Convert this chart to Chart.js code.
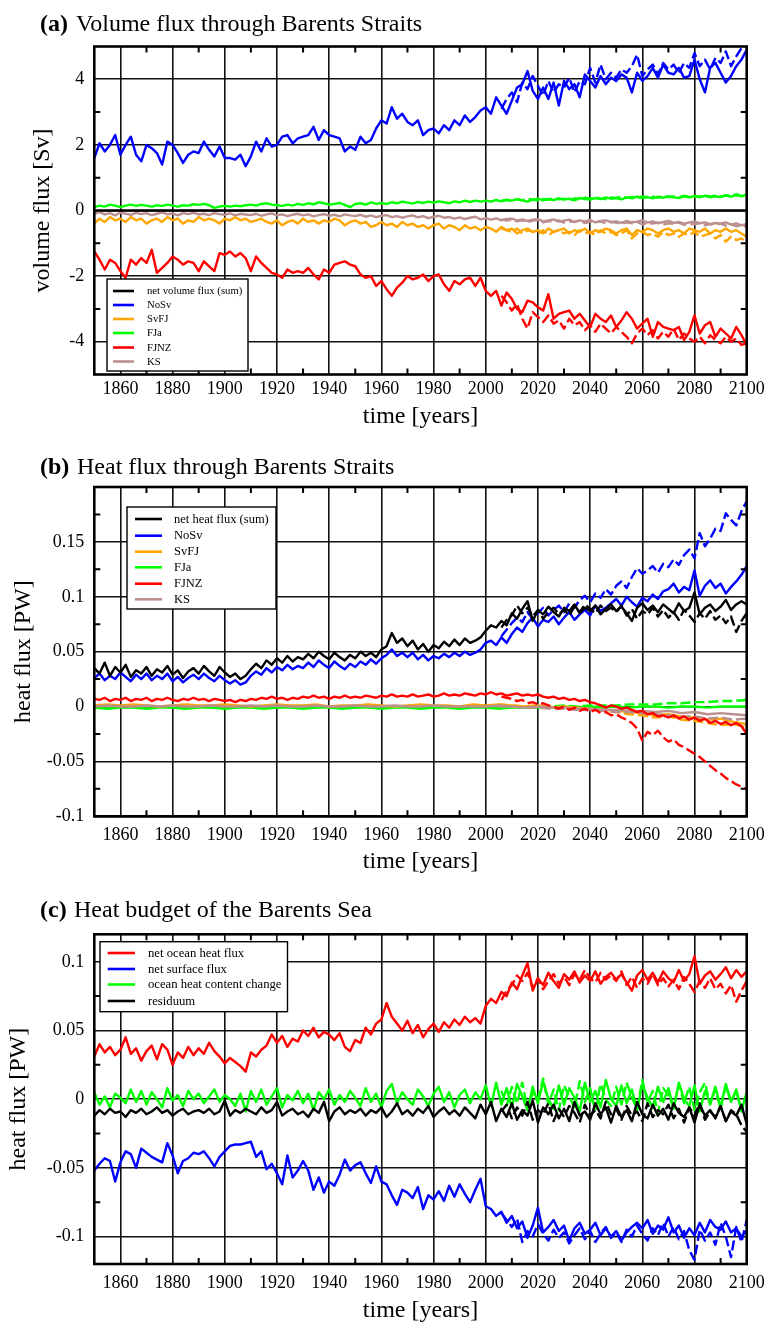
<!DOCTYPE html>
<html><head><meta charset="utf-8">
<script src="https://cdn.jsdelivr.net/npm/chart.js@4.4.1/dist/chart.umd.min.js"></script>
<style>
html,body{margin:0;padding:0;background:#fff;}
canvas{display:block;}
</style></head><body>
<canvas id="ca" width="764" height="440"></canvas>
<canvas id="cb" width="764" height="445"></canvas>
<canvas id="cc" width="764" height="437"></canvas>
<script>
// ---------- axes / ticks ----------
const xTicks = [1860,1880,1900,1920,1940,1960,1980,2000,2020,2040,2060,2080,2100];
const xMinor = [1870,1890,1910,1930,1950,1970,1990,2010,2030,2050,2070,2090];
const yTicksA = [-4,-2,0,2,4];
const yMinorA = [-3,-1,1,3];
const yTicksB = [-0.1,-0.05,0,0.05,0.1,0.15];
const yMinorB = [-0.075,-0.025,0.025,0.075,0.125,0.175];
const yTicksC = [-0.1,-0.05,0,0.05,0.1];
const yMinorC = [-0.075,-0.025,0.025,0.075];

function range(a,b,s){const r=[];for(let v=a;v<=b;v+=s)r.push(v);return r;}
const yr2 = range(1850,2100,2);   // solid series, every 2nd year
const yr2d = range(2006,2100,2);  // dashed scenario
const yr5 = range(1850,2100,5);
const yr5d = range(2005,2100,5);
const yrNet = [1850,2100];

// ---------- (a) volume flux [Sv] ----------
const aNet = [0,0];
const aNoSv = [
1.6,2.05,1.8,2.0,2.3,1.7,2.0,2.25,1.7,1.5,
2.0,1.9,1.75,1.4,2.1,2.0,1.75,1.45,1.7,1.8,
1.75,2.1,1.85,1.65,1.95,1.6,1.6,1.55,1.7,1.35,
1.65,2.1,1.8,2.2,1.95,2.0,2.25,2.3,2.05,2.2,
2.25,2.3,2.55,2.15,2.45,2.3,2.25,2.2,1.8,1.95,
1.85,2.25,2.05,2.15,2.5,2.75,2.65,3.15,2.8,2.95,
2.7,2.6,2.75,2.3,2.45,2.5,2.35,2.6,2.45,2.75,
2.6,2.9,2.7,2.85,3.05,3.15,2.95,3.45,3.2,2.95,
3.35,3.75,3.85,4.25,3.65,3.4,3.75,3.4,3.9,3.2,
3.95,3.7,3.85,3.45,4.15,3.95,3.75,4.1,3.85,4.05,
3.95,4.15,4.05,3.6,4.2,3.95,4.1,4.35,4.05,4.45,
4.2,4.15,4.35,4.05,4.1,4.6,4.0,3.6,4.35,4.5,
4.2,3.9,4.1,4.4,4.6,4.9];
const aNoSvD = [
3.1,3.4,
3.6,3.3,3.9,3.7,4.1,3.8,3.5,3.95,3.6,3.85,
3.75,4.05,3.6,3.95,3.85,4.35,3.9,4.45,4.0,4.2,
4.05,4.3,4.2,4.4,4.75,4.1,4.3,4.45,4.15,4.5,
4.3,4.45,4.2,4.5,4.35,4.8,4.4,4.6,4.3,4.65,
4.5,4.85,4.4,4.7,4.95,5.0];
const aSvFJ = [
-0.4,-0.25,-0.35,-0.2,-0.3,-0.25,-0.35,-0.2,-0.3,-0.25,
-0.4,-0.3,-0.25,-0.35,-0.2,-0.3,-0.25,-0.4,-0.3,-0.35,
-0.2,-0.3,-0.25,-0.3,-0.4,-0.25,-0.3,-0.2,-0.3,-0.25,
-0.35,-0.3,-0.25,-0.35,-0.4,-0.3,-0.45,-0.35,-0.3,-0.4,
-0.25,-0.35,-0.3,-0.4,-0.3,-0.35,-0.25,-0.3,-0.45,-0.35,
-0.3,-0.4,-0.35,-0.5,-0.45,-0.35,-0.45,-0.4,-0.5,-0.35,
-0.45,-0.4,-0.5,-0.45,-0.55,-0.45,-0.4,-0.55,-0.45,-0.5,
-0.6,-0.45,-0.55,-0.5,-0.6,-0.5,-0.55,-0.65,-0.5,-0.6,
-0.55,-0.7,-0.6,-0.55,-0.65,-0.6,-0.7,-0.55,-0.65,-0.6,
-0.55,-0.7,-0.6,-0.65,-0.55,-0.7,-0.6,-0.65,-0.55,-0.6,
-0.7,-0.6,-0.55,-0.75,-0.6,-0.65,-0.55,-0.6,-0.7,-0.6,
-0.55,-0.65,-0.6,-0.7,-0.55,-0.6,-0.65,-0.55,-0.7,-0.6,
-0.65,-0.55,-0.65,-0.6,-0.7,-0.8];
const aSvFJD = [
-0.55,-0.6,
-0.65,-0.55,-0.7,-0.6,-0.65,-0.7,-0.6,-0.75,-0.65,-0.6,
-0.7,-0.65,-0.75,-0.6,-0.7,-0.65,-0.75,-0.6,-0.7,-0.65,
-0.75,-0.7,-0.6,-0.85,-0.7,-0.65,-0.75,-0.7,-0.8,-0.65,
-0.75,-0.7,-0.8,-0.7,-0.75,-0.65,-0.8,-0.75,-0.7,-0.85,
-0.75,-0.95,-0.8,-0.9,-0.85,-1.0];
const aFJa = [
0.1,0.15,0.12,0.18,0.15,0.1,0.15,0.18,0.14,0.17,
0.15,0.12,0.16,0.14,0.18,0.15,0.12,0.16,0.15,0.19,
0.17,0.2,0.16,0.08,0.12,0.14,0.12,0.15,0.13,0.16,
0.18,0.15,0.2,0.22,0.18,0.16,0.14,0.18,0.15,0.2,
0.17,0.22,0.19,0.25,0.22,0.18,0.2,0.23,0.17,0.1,
0.2,0.22,0.18,0.25,0.2,0.23,0.2,0.25,0.22,0.27,
0.24,0.21,0.26,0.23,0.27,0.24,0.28,0.25,0.22,0.28,
0.25,0.3,0.26,0.3,0.27,0.3,0.27,0.32,0.28,0.33,
0.3,0.35,0.31,0.27,0.33,0.36,0.31,0.35,0.32,0.37,
0.33,0.36,0.31,0.38,0.35,0.33,0.38,0.35,0.4,0.36,
0.38,0.34,0.4,0.37,0.42,0.38,0.41,0.37,0.42,0.39,
0.43,0.4,0.38,0.43,0.4,0.44,0.41,0.45,0.4,0.43,
0.41,0.46,0.42,0.5,0.44,0.48];
const aFJaD = [
0.3,0.32,
0.29,0.34,0.31,0.36,0.33,0.3,0.35,0.33,0.38,0.34,
0.36,0.32,0.37,0.35,0.39,0.36,0.4,0.37,0.35,0.4,
0.38,0.42,0.39,0.41,0.38,0.43,0.4,0.42,0.39,0.44,
0.41,0.43,0.4,0.45,0.42,0.44,0.41,0.46,0.43,0.45,
0.42,0.47,0.44,0.46,0.43,0.49];
const aFJNZ = [
-1.25,-1.5,-1.8,-1.5,-1.6,-1.85,-2.05,-1.5,-1.65,-1.45,
-1.6,-1.2,-1.9,-1.75,-1.6,-1.4,-1.5,-1.65,-1.55,-1.6,
-1.85,-1.55,-1.7,-1.85,-1.3,-1.35,-1.25,-1.4,-1.3,-1.45,
-1.85,-1.4,-1.6,-1.75,-1.9,-1.95,-2.05,-1.8,-1.9,-1.85,
-1.9,-1.75,-1.95,-2.1,-1.8,-1.9,-1.65,-1.6,-1.55,-1.65,
-1.7,-1.95,-2.05,-2.0,-2.3,-2.15,-2.4,-2.6,-2.35,-2.2,
-2.0,-2.1,-2.05,-1.95,-2.15,-2.0,-1.95,-2.25,-2.45,-2.15,
-2.25,-2.1,-2.05,-2.3,-2.05,-2.45,-2.6,-2.45,-2.9,-2.5,
-2.7,-3.0,-3.1,-2.75,-2.8,-2.95,-3.05,-2.55,-3.3,-3.15,
-3.1,-3.05,-3.3,-3.15,-3.35,-3.55,-3.15,-3.3,-3.4,-3.2,
-3.55,-3.35,-3.1,-3.3,-3.6,-3.45,-3.3,-3.85,-3.4,-3.55,
-3.6,-3.65,-3.55,-3.95,-3.7,-3.2,-3.75,-3.5,-3.4,-3.85,
-3.6,-3.75,-3.9,-3.55,-3.8,-4.1];
const aFJNZD = [
-2.6,-2.8,
-3.05,-2.85,-3.3,-3.6,-3.1,-3.25,-3.4,-3.2,-3.45,-3.35,
-3.6,-3.3,-3.5,-3.4,-3.65,-3.5,-3.7,-3.45,-3.6,-3.75,
-3.55,-3.7,-3.85,-4.05,-3.75,-3.6,-3.8,-3.65,-3.9,-3.7,
-3.85,-3.6,-3.95,-3.75,-3.9,-4.0,-3.85,-4.05,-3.8,-3.95,
-4.05,-3.85,-4.0,-3.9,-4.1,-4.05];
const aKS = [
-0.1,-0.05,-0.12,-0.08,-0.15,-0.06,-0.1,-0.13,-0.07,-0.11,
-0.08,-0.14,-0.1,-0.06,-0.12,-0.09,-0.15,-0.08,-0.11,-0.07,
-0.12,-0.1,-0.14,-0.08,-0.11,-0.13,-0.09,-0.15,-0.1,-0.12,
-0.14,-0.1,-0.16,-0.12,-0.09,-0.15,-0.12,-0.17,-0.13,-0.1,
-0.15,-0.12,-0.18,-0.14,-0.11,-0.16,-0.13,-0.18,-0.12,-0.15,
-0.17,-0.13,-0.19,-0.15,-0.2,-0.16,-0.14,-0.2,-0.17,-0.22,
-0.18,-0.15,-0.21,-0.17,-0.23,-0.19,-0.16,-0.22,-0.2,-0.25,
-0.21,-0.26,-0.22,-0.19,-0.27,-0.23,-0.28,-0.24,-0.3,-0.26,
-0.25,-0.3,-0.27,-0.32,-0.28,-0.26,-0.33,-0.3,-0.27,-0.34,
-0.31,-0.28,-0.35,-0.3,-0.33,-0.29,-0.36,-0.32,-0.3,-0.35,
-0.33,-0.38,-0.32,-0.36,-0.34,-0.3,-0.37,-0.33,-0.39,-0.35,
-0.32,-0.38,-0.35,-0.4,-0.36,-0.33,-0.39,-0.36,-0.42,-0.38,
-0.4,-0.36,-0.43,-0.39,-0.45,-0.42];
const aKSD = [
-0.27,-0.31,
-0.28,-0.33,-0.3,-0.35,-0.31,-0.29,-0.36,-0.32,-0.34,-0.3,
-0.37,-0.33,-0.35,-0.31,-0.38,-0.34,-0.36,-0.33,-0.39,-0.35,
-0.37,-0.41,-0.36,-0.39,-0.35,-0.42,-0.38,-0.4,-0.36,-0.43,
-0.39,-0.41,-0.37,-0.44,-0.4,-0.42,-0.38,-0.45,-0.41,-0.43,
-0.4,-0.46,-0.42,-0.48,-0.44,-0.5];

// ---------- (b) heat flux [PW] ----------
const bNet = [
0.035,0.03,0.04,0.028,0.036,0.031,0.038,0.027,0.033,0.03,
0.036,0.028,0.034,0.031,0.037,0.029,0.033,0.026,0.032,0.035,
0.03,0.037,0.032,0.028,0.036,0.031,0.027,0.03,0.025,0.028,
0.034,0.039,0.035,0.042,0.038,0.044,0.04,0.046,0.041,0.045,
0.043,0.048,0.044,0.05,0.046,0.043,0.049,0.045,0.042,0.047,
0.044,0.05,0.046,0.049,0.045,0.052,0.055,0.067,0.058,0.062,
0.055,0.06,0.052,0.057,0.05,0.056,0.053,0.059,0.055,0.061,
0.056,0.062,0.058,0.06,0.063,0.069,0.074,0.072,0.078,0.074,
0.085,0.08,0.089,0.096,0.078,0.088,0.084,0.091,0.086,0.082,
0.09,0.087,0.093,0.085,0.09,0.087,0.092,0.084,0.089,0.093,
0.087,0.091,0.085,0.078,0.09,0.094,0.088,0.092,0.086,0.093,
0.089,0.085,0.094,0.087,0.09,0.104,0.084,0.09,0.093,0.087,
0.091,0.097,0.088,0.093,0.096,0.093];
const bNetD = [
0.072,0.079,
0.083,0.092,0.085,0.09,0.082,0.088,0.08,0.086,0.09,0.084,
0.088,0.083,0.091,0.086,0.093,0.089,0.085,0.092,0.087,0.09,
0.086,0.092,0.083,0.089,0.08,0.087,0.084,0.09,0.082,0.088,
0.081,0.086,0.079,0.088,0.083,0.077,0.085,0.08,0.087,0.079,
0.083,0.076,0.082,0.068,0.078,0.085];
const bNoSv = [
0.026,0.03,0.024,0.028,0.025,0.031,0.027,0.023,0.029,0.025,
0.03,0.024,0.028,0.025,0.03,0.023,0.027,0.022,0.026,0.029,
0.025,0.03,0.026,0.023,0.028,0.024,0.021,0.024,0.02,0.022,
0.028,0.032,0.029,0.035,0.031,0.036,0.033,0.038,0.034,0.037,
0.035,0.04,0.036,0.042,0.038,0.035,0.041,0.037,0.034,0.039,
0.036,0.041,0.038,0.043,0.039,0.044,0.047,0.052,0.046,0.049,
0.045,0.049,0.043,0.047,0.042,0.046,0.044,0.048,0.045,0.049,
0.046,0.05,0.047,0.049,0.052,0.058,0.06,0.056,0.063,0.058,
0.066,0.072,0.068,0.076,0.081,0.073,0.079,0.077,0.082,0.075,
0.081,0.086,0.079,0.084,0.088,0.083,0.092,0.087,0.09,0.094,
0.098,0.092,0.1,0.095,0.091,0.099,0.096,0.102,0.098,0.105,
0.107,0.112,0.104,0.109,0.106,0.124,0.101,0.11,0.115,0.108,
0.112,0.103,0.109,0.114,0.12,0.128];
const bNoSvD = [
0.064,0.07,
0.076,0.081,0.077,0.086,0.08,0.085,0.09,0.083,0.088,0.092,
0.086,0.094,0.09,0.097,0.101,0.095,0.103,0.099,0.107,0.102,
0.11,0.114,0.108,0.118,0.126,0.121,0.124,0.128,0.122,0.13,
0.127,0.134,0.129,0.138,0.143,0.135,0.158,0.146,0.153,0.162,
0.16,0.176,0.17,0.165,0.178,0.187];
const bFJNZ = [
0.007,0.006,0.008,0.005,0.007,0.006,0.008,0.005,0.007,0.006,
0.008,0.005,0.007,0.006,0.008,0.006,0.005,0.007,0.006,0.008,
0.006,0.007,0.005,0.007,0.006,0.005,0.006,0.004,0.006,0.005,
0.007,0.006,0.008,0.007,0.009,0.007,0.008,0.006,0.008,0.007,
0.009,0.008,0.01,0.008,0.009,0.007,0.009,0.008,0.01,0.008,
0.009,0.008,0.01,0.009,0.008,0.01,0.009,0.011,0.009,0.01,
0.009,0.011,0.009,0.01,0.011,0.009,0.01,0.012,0.01,0.011,
0.01,0.012,0.011,0.01,0.012,0.011,0.013,0.011,0.012,0.01,
0.011,0.012,0.01,0.011,0.01,0.011,0.009,0.008,0.009,0.007,
0.008,0.006,0.007,0.005,0.006,0.004,0.003,0.001,-0.001,0.001,
0.0,-0.002,-0.001,-0.003,-0.005,-0.004,-0.007,-0.006,-0.009,-0.008,
-0.01,-0.008,-0.011,-0.009,-0.012,-0.01,-0.013,-0.011,-0.015,-0.013,
-0.016,-0.014,-0.017,-0.015,-0.018,-0.025];
const bFJNZD = [
0.009,0.008,
0.007,0.005,0.006,0.003,0.004,0.002,0.003,0.001,0.0,-0.002,
0.0,-0.003,-0.001,-0.004,-0.002,-0.005,-0.003,-0.006,-0.005,-0.008,
-0.007,-0.01,-0.012,-0.015,-0.02,-0.031,-0.023,-0.026,-0.022,-0.028,
-0.032,-0.03,-0.035,-0.037,-0.04,-0.043,-0.046,-0.05,-0.054,-0.058,
-0.061,-0.065,-0.068,-0.071,-0.073,-0.075];
const bSvFJ = [
0.001,0.002,0.001,0.002,0.001,0.0,0.001,0.002,0.001,0.001,
0.002,0.001,0.0,0.001,0.002,0.001,0.001,0.002,0.0,0.001,
0.001,0.002,0.001,0.0,0.001,0.002,0.001,0.001,0.0,0.002,
0.001,0.002,0.001,0.0,0.001,-0.001,0.0,-0.001,-0.002,-0.003,
-0.004,-0.005,-0.006,-0.008,-0.007,-0.009,-0.01,-0.012,-0.011,-0.014,
-0.016];
const bSvFJD = [0.002,0.001,0.0,0.001,-0.001,-0.002,-0.001,-0.003,-0.004,-0.005,
-0.007,-0.008,-0.01,-0.009,-0.012,-0.013,-0.015,-0.017,-0.016,-0.019];
const bFJa = [
-0.001,-0.002,-0.001,-0.001,-0.002,-0.001,-0.001,-0.002,-0.001,-0.001,
-0.002,-0.001,-0.001,-0.002,-0.001,-0.001,-0.002,-0.001,-0.001,-0.002,
-0.001,-0.001,-0.002,-0.001,-0.001,-0.002,-0.001,-0.001,-0.002,-0.001,
-0.001,-0.002,-0.001,-0.001,-0.001,-0.001,0.0,-0.001,0.0,-0.001,
0.0,-0.001,0.0,0.0,-0.001,0.0,0.0,-0.001,0.0,0.0,
0.0];
const bFJaD = [0.0,0.0,-0.001,0.0,0.0,0.001,0.0,0.001,0.001,0.001,
0.002,0.002,0.002,0.003,0.003,0.004,0.004,0.005,0.005,0.006];
const bKS = [
0.0,0.001,0.0,0.0,0.001,0.0,0.001,0.0,0.0,0.001,
0.0,0.0,0.001,0.0,0.001,0.0,0.0,0.001,0.0,0.0,
0.001,0.0,0.0,0.001,0.0,0.0,0.001,0.0,0.0,0.0,
0.0,0.001,0.0,-0.001,0.0,-0.001,-0.001,-0.002,-0.002,-0.003,
-0.003,-0.004,-0.004,-0.005,-0.004,-0.006,-0.005,-0.007,-0.006,-0.007,
-0.008];
const bKSD = [0.0,0.0,-0.001,-0.001,-0.002,-0.002,-0.003,-0.003,-0.004,-0.005,
-0.005,-0.006,-0.007,-0.008,-0.009,-0.009,-0.011,-0.01,-0.012,-0.011];

// ---------- (c) heat budget [PW] ----------
const cOcean = [
0.031,0.04,0.034,0.038,0.032,0.036,0.045,0.033,0.037,0.028,
0.035,0.039,0.029,0.04,0.036,0.025,0.034,0.03,0.038,0.032,
0.037,0.033,0.041,0.035,0.031,0.026,0.03,0.027,0.024,0.02,
0.034,0.031,0.036,0.039,0.047,0.041,0.046,0.038,0.044,0.042,
0.05,0.046,0.052,0.045,0.049,0.047,0.043,0.048,0.038,0.035,
0.043,0.041,0.052,0.047,0.055,0.058,0.07,0.06,0.055,0.05,
0.057,0.048,0.054,0.045,0.051,0.055,0.049,0.056,0.052,0.058,
0.054,0.06,0.056,0.059,0.055,0.068,0.073,0.07,0.078,0.075,
0.085,0.08,0.09,0.099,0.079,0.088,0.083,0.092,0.086,0.081,
0.091,0.087,0.093,0.085,0.09,0.086,0.093,0.084,0.089,0.092,
0.087,0.091,0.085,0.079,0.09,0.094,0.087,0.092,0.085,0.093,
0.088,0.085,0.094,0.086,0.091,0.104,0.084,0.09,0.093,0.087,
0.091,0.096,0.088,0.094,0.089,0.093];
const cOceanD = [
0.072,0.079,
0.083,0.09,0.086,0.092,0.081,0.088,0.08,0.086,0.091,0.084,
0.089,0.083,0.091,0.087,0.094,0.088,0.085,0.092,0.087,0.09,
0.086,0.093,0.083,0.089,0.081,0.088,0.084,0.091,0.083,0.088,
0.082,0.087,0.08,0.089,0.084,0.078,0.086,0.081,0.088,0.08,
0.084,0.077,0.083,0.071,0.079,0.086];
const cSurf = [
-0.052,-0.047,-0.043,-0.045,-0.06,-0.046,-0.038,-0.04,-0.05,-0.036,
-0.039,-0.042,-0.044,-0.046,-0.032,-0.041,-0.054,-0.045,-0.043,-0.039,
-0.04,-0.038,-0.043,-0.049,-0.042,-0.038,-0.034,-0.033,-0.033,-0.032,
-0.031,-0.042,-0.038,-0.051,-0.047,-0.054,-0.062,-0.041,-0.057,-0.052,
-0.045,-0.052,-0.066,-0.057,-0.068,-0.06,-0.063,-0.055,-0.044,-0.052,
-0.048,-0.046,-0.054,-0.061,-0.049,-0.06,-0.062,-0.07,-0.077,-0.066,
-0.068,-0.072,-0.064,-0.08,-0.07,-0.073,-0.067,-0.074,-0.063,-0.071,
-0.062,-0.069,-0.075,-0.066,-0.058,-0.078,-0.08,-0.085,-0.082,-0.09,
-0.085,-0.094,-0.089,-0.101,-0.092,-0.079,-0.097,-0.093,-0.088,-0.096,
-0.092,-0.103,-0.094,-0.09,-0.098,-0.095,-0.09,-0.099,-0.094,-0.1,
-0.096,-0.103,-0.097,-0.093,-0.09,-0.094,-0.088,-0.098,-0.092,-0.095,
-0.086,-0.097,-0.092,-0.101,-0.094,-0.099,-0.09,-0.097,-0.088,-0.093,
-0.095,-0.089,-0.097,-0.094,-0.1,-0.096];
const cSurfD = [
-0.083,-0.088,
-0.093,-0.087,-0.104,-0.096,-0.1,-0.091,-0.098,-0.103,-0.095,-0.101,
-0.097,-0.105,-0.099,-0.094,-0.102,-0.096,-0.104,-0.098,-0.093,-0.101,
-0.097,-0.104,-0.095,-0.1,-0.092,-0.098,-0.103,-0.094,-0.099,-0.09,
-0.1,-0.093,-0.102,-0.096,-0.11,-0.117,-0.095,-0.103,-0.097,-0.106,
-0.09,-0.1,-0.115,-0.093,-0.104,-0.088];
const cOHC = [
0.005,-0.004,0.002,-0.006,0.004,0.001,-0.003,0.007,-0.002,0.006,
-0.004,0.005,0.0,-0.006,0.008,-0.001,0.003,-0.005,0.006,0.0,
0.004,-0.003,0.002,0.007,-0.002,0.003,0.0,-0.005,0.004,-0.009,
0.006,-0.002,0.007,-0.004,0.002,0.008,-0.006,0.003,-0.001,0.006,
-0.003,0.004,-0.008,0.005,0.0,0.007,-0.004,0.003,-0.002,0.006,
0.001,-0.005,0.008,-0.002,0.004,-0.006,0.006,0.011,-0.003,0.005,
0.0,-0.004,0.007,0.002,-0.005,0.004,0.009,-0.002,0.005,-0.006,
0.003,0.007,-0.003,0.005,0.0,0.01,-0.005,0.012,-0.004,0.008,
-0.006,0.011,0.002,-0.008,0.009,-0.003,0.013,0.0,-0.007,0.01,
-0.004,0.008,0.001,-0.009,0.012,-0.002,0.006,-0.006,0.014,0.0,
-0.005,0.01,-0.003,0.007,-0.008,0.011,0.001,-0.006,0.009,-0.002,
0.008,-0.007,0.012,0.0,-0.005,0.01,-0.009,0.006,-0.003,0.009,
-0.006,0.011,-0.002,0.007,-0.008,0.004];
const cOHCD = [
0.006,-0.005,
0.009,-0.003,0.012,-0.007,0.005,0.0,0.015,-0.004,0.007,-0.008,
0.01,0.002,-0.006,0.013,-0.002,0.008,-0.009,0.011,0.0,-0.005,
0.009,-0.004,0.012,0.001,-0.007,0.014,-0.002,0.006,-0.01,0.008,
0.003,-0.006,0.011,-0.003,0.009,-0.008,0.005,0.012,-0.004,0.007,
-0.007,0.01,-0.002,0.006,-0.009,0.005];
const cRes = [
-0.012,-0.008,-0.011,-0.007,-0.01,-0.009,-0.013,-0.008,-0.01,-0.007,
-0.011,-0.009,-0.006,-0.01,-0.008,-0.012,-0.009,-0.007,-0.011,-0.009,
-0.008,-0.01,-0.007,-0.011,-0.009,-0.001,-0.012,-0.008,-0.01,-0.007,
-0.009,-0.011,-0.006,-0.01,-0.008,-0.002,-0.012,-0.009,-0.007,-0.011,
-0.009,-0.013,-0.007,-0.01,-0.002,-0.016,-0.009,-0.006,-0.011,-0.008,
-0.01,-0.007,-0.012,-0.008,-0.01,-0.006,-0.013,-0.009,-0.003,-0.011,
-0.008,-0.012,-0.007,-0.01,-0.005,-0.013,-0.009,-0.006,-0.011,-0.008,
-0.012,-0.006,-0.01,-0.014,-0.004,-0.011,-0.002,-0.016,-0.007,-0.013,
-0.003,-0.015,-0.008,-0.012,-0.001,-0.017,-0.006,-0.011,-0.004,-0.014,
-0.007,-0.016,-0.002,-0.012,-0.009,-0.015,-0.003,-0.011,-0.006,-0.017,
-0.005,-0.013,-0.008,-0.016,-0.002,-0.011,-0.014,-0.004,-0.012,-0.007,
-0.015,-0.003,-0.01,-0.013,-0.006,-0.017,-0.004,-0.012,-0.008,-0.014,
-0.005,-0.016,-0.009,-0.012,-0.004,-0.018];
const cResD = [
-0.009,-0.004,
-0.014,-0.006,-0.012,-0.002,-0.015,-0.008,-0.011,-0.003,-0.016,-0.007,
-0.013,-0.005,-0.01,-0.017,-0.004,-0.012,-0.008,-0.014,-0.002,-0.011,
-0.007,-0.015,-0.005,-0.012,-0.009,-0.016,-0.003,-0.013,-0.008,-0.011,
-0.004,-0.014,-0.007,-0.017,-0.006,-0.012,-0.003,-0.015,-0.009,-0.013,
-0.005,-0.016,-0.008,-0.011,-0.019,-0.024];

// ---------- colours ----------
const BLACK='#000000', BLUE='#0000ff', ORANGE='#ffa500', GREEN='#00ff00', RED='#ff0000', BROWN='#bc8f8f';

function ds(label, color, years, vals, dashed){
  return {label, data: vals.map((v,i)=>({x:years[i], y:v})), borderColor:color, backgroundColor:color,
    borderWidth:2.4, pointRadius:0, pointHoverRadius:0, tension:0, fill:false,
    borderDash: dashed ? [10,4] : [], borderJoinStyle:'round'};
}

const SERIF = '"Liberation Serif", "Times New Roman", serif';

const framePlugin = {
  id:'frame',
  afterDatasetsDraw(chart, args, o){
    const {ctx, chartArea:a, scales:{x,y}} = chart;
    ctx.save();
    ctx.strokeStyle='#000'; ctx.lineWidth=2;
    ctx.beginPath();
    o.xMinor.forEach(v=>{const px=x.getPixelForValue(v); ctx.moveTo(px,a.bottom); ctx.lineTo(px,a.bottom-6); ctx.moveTo(px,a.top); ctx.lineTo(px,a.top+6);});
    o.yMinor.forEach(v=>{const py=y.getPixelForValue(v); ctx.moveTo(a.left,py); ctx.lineTo(a.left+6,py); ctx.moveTo(a.right,py); ctx.lineTo(a.right-6,py);});
    ctx.stroke();
    ctx.lineWidth=2.6;
    ctx.strokeRect(a.left,a.top,a.right-a.left,a.bottom-a.top);
    ctx.restore();
  }
};
const legendPlugin = {
  id:'boxLegend',
  afterDraw(chart, args, o){
    const ctx = chart.ctx;
    ctx.save();
    ctx.fillStyle='#fff';
    ctx.fillRect(o.box[0],o.box[1],o.box[2],o.box[3]);
    ctx.strokeStyle='#000'; ctx.lineWidth=1.4;
    ctx.strokeRect(o.box[0],o.box[1],o.box[2],o.box[3]);
    ctx.font = o.size+'px '+SERIF;
    ctx.textBaseline='middle'; ctx.textAlign='left';
    o.items.forEach((it,i)=>{
      const yy=o.rows[i];
      ctx.strokeStyle=it[1]; ctx.lineWidth=2.6;
      ctx.beginPath(); ctx.moveTo(o.sx[0],yy); ctx.lineTo(o.sx[1],yy); ctx.stroke();
      ctx.fillStyle='#000'; ctx.fillText(it[0],o.tx,yy+0.5);
    });
    ctx.restore();
  }
};
const titlePlugin = {
  id:'panelTitle',
  afterDraw(chart, args, o){
    const ctx = chart.ctx;
    ctx.save();
    ctx.fillStyle='#000'; ctx.textBaseline='alphabetic'; ctx.textAlign='left';
    ctx.font='bold 24px '+SERIF; ctx.fillText(o.tag,o.x1,o.y);
    ctx.font='24px '+SERIF; ctx.fillText(o.text,o.x2,o.y);
    ctx.restore();
  }
};

function makeChart(id, c){
  return new Chart(document.getElementById(id), {
    type:'line',
    data:{datasets:c.datasets},
    plugins:[framePlugin, legendPlugin, titlePlugin],
    options:{
      responsive:false, animation:false, devicePixelRatio:1,
      events:[],
      layout:{padding:{top:c.top, left:c.padLeft, right:17.3, bottom:0}},
      plugins:{
        legend:{display:false}, tooltip:{enabled:false}, title:{display:false},
        frame:{xMinor:xMinor, yMinor:c.yMinor},
        boxLegend:c.legend,
        panelTitle:c.title
      },
      scales:{
        x:{type:'linear', min:1850, max:2100,
          afterBuildTicks:s=>{s.ticks=xTicks.map(v=>({value:v}));},
          afterFit:s=>{s.height=c.xH; s.paddingLeft=0; s.paddingRight=0;},
          grid:{color:'#111', lineWidth:1.6, drawTicks:false},
          border:{display:false},
          ticks:{color:'#000', font:{family:SERIF, size:18}, padding:c.xPad, maxRotation:0, autoSkip:false, callback:v=>String(v)},
          title:{display:true, text:'time [years]', color:'#000', font:{family:SERIF, size:24}, padding:{top:0,bottom:c.xTitlePad}}
        },
        y:{type:'linear', min:c.ymin, max:c.ymax,
          afterBuildTicks:s=>{s.ticks=c.yTicks.map(v=>({value:v}));},
          afterFit:s=>{s.width=94.3-c.padLeft; s.paddingTop=0; s.paddingBottom=0;},
          grid:{color:'#111', lineWidth:1.6, drawTicks:false},
          border:{display:false},
          ticks:{color:'#000', font:{family:SERIF, size:18}, padding:10, autoSkip:false, callback:v=>String(v)},
          title:{display:true, text:c.ytitle, color:'#000', font:{family:SERIF, size:24}, padding:{top:0,bottom:0}}
        }
      }
    }
  });
}

makeChart('ca', {
  top:46.5, padLeft:28.6, xH:65.5, xPad:4, xTitlePad:8.6,
  ymin:-5, ymax:5, yTicks:yTicksA, yMinor:yMinorA, ytitle:'volume flux [Sv]',
  title:{tag:'(a)', text:'Volume flux through Barents Straits', x1:40, x2:76, y:31},
  legend:{box:[107,279,141,92], sx:[113,134], tx:147, size:10.7,
    rows:[291,305,319,333,347.5,361.5],
    items:[['net volume flux (sum)',BLACK],['NoSv',BLUE],['SvFJ',ORANGE],['FJa',GREEN],['FJNZ',RED],['KS',BROWN]]},
  datasets:[
    ds('net volume flux (sum)',BLACK,yrNet,aNet,false),
    ds('NoSv',BLUE,yr2,aNoSv,false), ds('NoSv',BLUE,yr2d,aNoSvD,true),
    ds('FJNZ',RED,yr2,aFJNZ,false), ds('FJNZ',RED,yr2d,aFJNZD,true),
    ds('KS',BROWN,yr2,aKS,false), ds('KS',BROWN,yr2d,aKSD,true),
    ds('SvFJ',ORANGE,yr2,aSvFJ,false), ds('SvFJ',ORANGE,yr2d,aSvFJD,true),
    ds('FJa',GREEN,yr2,aFJa,false), ds('FJa',GREEN,yr2d,aFJaD,true)
  ]
});

makeChart('cb', {
  top:47, padLeft:9.6, xH:68.7, xPad:8, xTitlePad:8.6,
  ymin:-0.1, ymax:0.2, yTicks:yTicksB, yMinor:yMinorB, ytitle:'heat flux [PW]',
  title:{tag:'(b)', text:'Heat flux through Barents Straits', x1:40, x2:77, y:34},
  legend:{box:[127,67,149,102], sx:[135,162], tx:174, size:12.5,
    rows:[79,95.7,111.7,127.3,143.7,159.3],
    items:[['net heat flux (sum)',BLACK],['NoSv',BLUE],['SvFJ',ORANGE],['FJa',GREEN],['FJNZ',RED],['KS',BROWN]]},
  datasets:[
    ds('net heat flux (sum)',BLACK,yr2,bNet,false), ds('net heat flux (sum)',BLACK,yr2d,bNetD,true),
    ds('NoSv',BLUE,yr2,bNoSv,false), ds('NoSv',BLUE,yr2d,bNoSvD,true),
    ds('FJNZ',RED,yr2,bFJNZ,false), ds('FJNZ',RED,yr2d,bFJNZD,true),
    ds('KS',BROWN,yr5,bKS,false), ds('KS',BROWN,yr5d,bKSD,true),
    ds('SvFJ',ORANGE,yr5,bSvFJ,false), ds('SvFJ',ORANGE,yr5d,bSvFJD,true),
    ds('FJa',GREEN,yr5,bFJa,false), ds('FJa',GREEN,yr5d,bFJaD,true)
  ]
});

makeChart('cc', {
  top:49.3, padLeft:4.6, xH:58, xPad:8.5, xTitlePad:-3.4,
  ymin:-0.12, ymax:0.12, yTicks:yTicksC, yMinor:yMinorC, ytitle:'heat flux [PW]',
  title:{tag:'(c)', text:'Heat budget of the Barents Sea', x1:40, x2:74, y:32.3},
  legend:{box:[100,56.7,187.5,70], sx:[107.7,135], tx:148, size:12.7,
    rows:[68,84,99.5,116],
    items:[['net ocean heat flux',RED],['net surface flux',BLUE],['ocean heat content change',GREEN],['residuum',BLACK]]},
  datasets:[
    ds('residuum',BLACK,yr2,cRes,false), ds('residuum',BLACK,yr2d,cResD,true),
    ds('net ocean heat flux',RED,yr2,cOcean,false), ds('net ocean heat flux',RED,yr2d,cOceanD,true),
    ds('net surface flux',BLUE,yr2,cSurf,false), ds('net surface flux',BLUE,yr2d,cSurfD,true),
    ds('ocean heat content change',GREEN,yr2,cOHC,false), ds('ocean heat content change',GREEN,yr2d,cOHCD,true)
  ]
});
</script>
</body></html>
